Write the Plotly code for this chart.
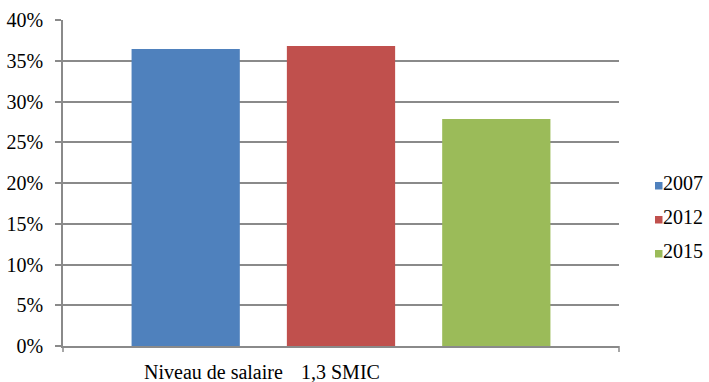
import plotly.graph_objects as go

# Share of employees paid at or below 1.3 x SMIC, by year
category = "Niveau de salaire 1,3 SMIC"
label_parts = ["Niveau de salaire", "1,3 SMIC"]
years = ["2007", "2012", "2015"]
shares = [0.3644, 0.368, 0.2785]
colors = ["#4F81BD", "#C0504D", "#9BBB59"]
tick_vals = [0, 0.05, 0.10, 0.15, 0.20, 0.25, 0.30, 0.35, 0.40]
tick_text = ["0%", "5%", "10%", "15%", "20%", "25%", "30%", "35%", "40%"]

FONT = "Liberation Serif, Times New Roman, serif"
GRID = "#8a8a8a"

W, H = 709, 382
ML, MR, MT, MB = 63, 90, 20, 36
PW, PH = W - ML - MR, H - MT - MB


def px_x(x):
    return (x - ML) / PW


def px_y(y):
    return (H - MB - y) / PH


fig = go.Figure()
for yr, val, col in zip(years, shares, colors):
    fig.add_trace(go.Bar(
        x=[category], y=[val], name=yr,
        marker=dict(color=col, line=dict(width=0)),
    ))

fig.update_layout(
    width=W, height=H,
    margin=dict(l=ML, r=MR, t=MT, b=MB, autoexpand=False),
    paper_bgcolor="white", plot_bgcolor="white",
    barmode="group", bargap=0.162, bargroupgap=0.303,
    font=dict(family=FONT, size=20, color="#000000"),
    showlegend=False,
    xaxis=dict(
        showticklabels=False, ticks="", showgrid=False,
        showline=True, linecolor=GRID, linewidth=1.5,
        zeroline=False, automargin=False,
    ),
    yaxis=dict(
        range=[0, 0.40], tickvals=tick_vals, ticktext=tick_text,
        showgrid=True, gridcolor=GRID, gridwidth=1.5,
        showline=True, linecolor=GRID, linewidth=1.5,
        ticks="outside", ticklen=6, tickcolor=GRID, tickwidth=1.5,
        ticklabelstandoff=8, automargin=False,
        tickfont=dict(family=FONT, size=20, color="#000000"),
        zeroline=False,
    ),
)

# Category label under the axis, drawn in two pieces
for txt, xpos in zip(label_parts, [px_x(142), px_x(299)]):
    fig.add_annotation(
        text=txt, xref="paper", yref="paper", x=xpos, y=0,
        xanchor="left", yanchor="top", yshift=-13, showarrow=False,
        font=dict(family=FONT, size=20, color="#000000"),
    )

# Small tick marks at both ends of the category axis
for xp in [0, 1]:
    fig.add_shape(type="line", xref="paper", yref="paper",
                  x0=xp, x1=xp, y0=0, y1=-6 / PH,
                  line=dict(color=GRID, width=1.5))

# Legend: colour square + year label, one row per series
for i, (yr, col) in enumerate(zip(years, colors)):
    cy = 183 + 34 * i
    fig.add_shape(type="rect", xref="paper", yref="paper",
                  x0=px_x(655), x1=px_x(662.5),
                  y0=px_y(cy + 6.5), y1=px_y(cy - 1),
                  fillcolor=col, line=dict(width=0))
    fig.add_annotation(
        text=yr, xref="paper", yref="paper", x=px_x(661), y=px_y(cy),
        xanchor="left", yanchor="middle", showarrow=False,
        font=dict(family=FONT, size=20, color="#000000"),
    )

fig.write_html("out.html")
